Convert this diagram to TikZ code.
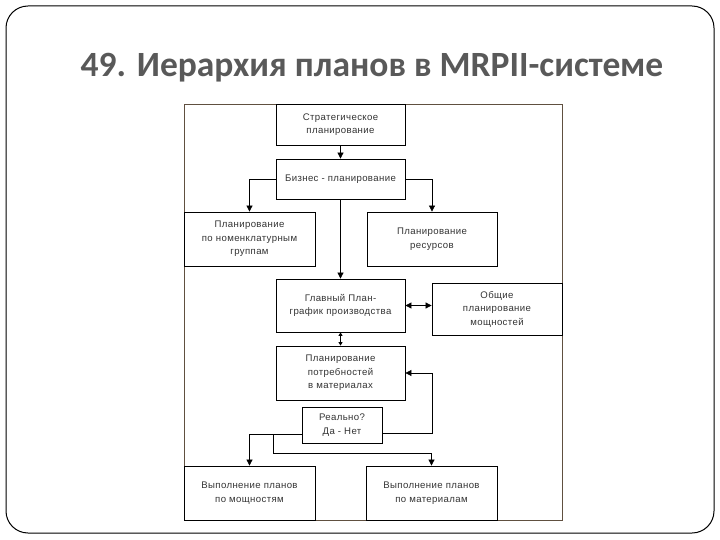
\documentclass[tikz,border=0pt]{standalone}
\usepackage{fontspec}
\usepackage{tikz}
\usetikzlibrary{arrows.meta}
\newfontfamily\boxfont[LetterSpace=4.0]{Liberation Sans}
\newfontfamily\titlefont{Carlito}
\definecolor{titlegray}{RGB}{89,89,89}
\definecolor{framebrown}{RGB}{96,80,64}

\begin{document}
\begin{tikzpicture}[x=1pt,y=-1pt]
\tikzstyle{box}=[draw,rectangle,line width=0.8pt,align=center,inner sep=1pt,
  font=\boxfont\fontsize{9.6}{13.5}\selectfont,text=black!80]
\tikzstyle{arr}=[line width=0.7pt,-{Triangle[length=6pt,width=6pt]}]
\tikzstyle{dbl}=[line width=0.7pt,{Triangle[length=6pt,width=6pt]}-{Triangle[length=6pt,width=6pt]}]
\useasboundingbox (0,0) rectangle (720,540);

\draw[line width=1pt,rounded corners=22pt] (6,6) rectangle (714,533);
\node[font=\titlefont\bfseries\fontsize{35.5}{40}\selectfont,text=titlegray] (title) at (372,68) {49. Иерархия планов в MRPII-системе};

\draw[framebrown,line width=1pt] (184,105) rectangle (562,520);

\node[box,minimum width=129,minimum height=41] (strat) at (340.5,124.5) {Стратегическое\\планирование};
\node[box,minimum width=129,minimum height=40] (biz) at (340.5,179) {Бизнес - планирование};
\node[box,minimum width=131,minimum height=54] (nomen) at (249.5,239) {Планирование\\по номенклатурным\\группам};
\node[box,minimum width=130,minimum height=54] (res) at (432,239) {Планирование\\ресурсов};
\node[box,minimum width=129,minimum height=53] (mps) at (340.5,305.5) {Главный План-\\график производства};
\node[box,minimum width=130,minimum height=52] (cap) at (497,309) {Общие\\планирование\\мощностей};
\node[box,minimum width=129,minimum height=54] (mrp) at (340.5,373) {Планирование\\потребностей\\в материалах};
\node[box,minimum width=80,minimum height=36] (real) at (342,425) {Реально?\\Да - Нет};
\node[box,minimum width=131,minimum height=54] (execcap) at (249.5,493) {Выполнение планов\\по мощностям};
\node[box,minimum width=131,minimum height=54] (execmat) at (431.5,493) {Выполнение планов\\по материалам};

\coordinate (realr) at (382,433);
\coordinate (reall) at (302,434);
\coordinate (br) at (273,434);

\draw[arr] (strat) -- (biz);
\draw[arr] (biz.west) -| (nomen.north);
\draw[arr] (biz.east) -| (res.north);
\draw[arr] (biz) -- (mps);
\draw[dbl] (mps.east) -- (mps.east -| cap.west);
\draw[line width=0.7pt,{Triangle[length=3.5pt,width=4pt]}-{Triangle[length=3.5pt,width=4pt]}] (mps) -- (mrp);
\draw[arr] (realr) -- (432,433) |- (mrp.east);
\draw[arr] (reall) -| (execcap.north);
\draw[arr] (br) -- ++(0,19) -| (execmat.north);

\end{tikzpicture}
\end{document}
